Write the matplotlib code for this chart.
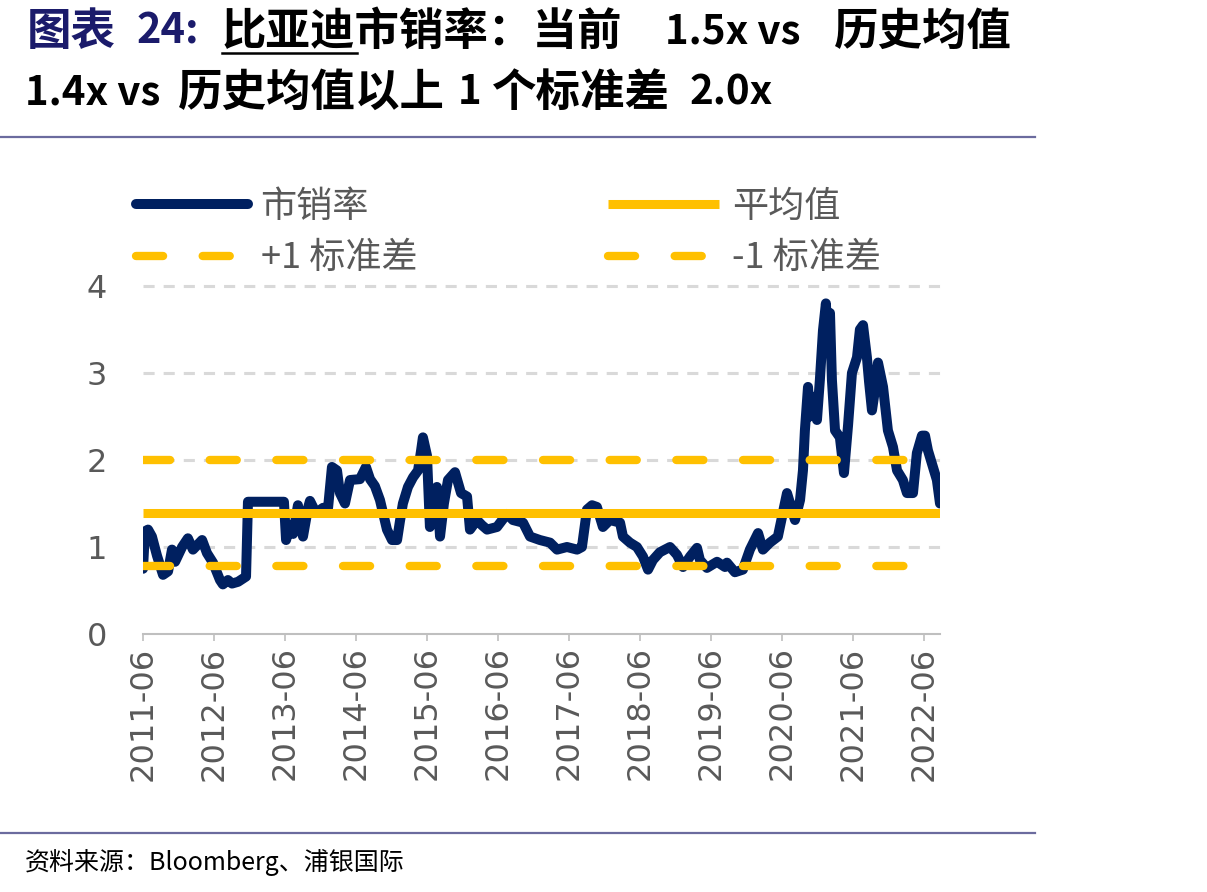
import matplotlib
matplotlib.use('Agg')
import matplotlib.pyplot as plt
import pandas as pd
from matplotlib.lines import Line2D

plt.rcParams['lines.scale_dashes'] = False

# ---------------- data ----------------
dates = [
    '2011-06-01', '2011-06-11', '2011-06-27', '2011-07-17', '2011-08-12', '2011-09-12',
    '2011-10-08', '2011-10-28', '2011-11-13', '2011-12-19', '2012-01-18', '2012-02-13',
    '2012-03-31', '2012-04-25', '2012-05-26', '2012-07-01', '2012-07-16', '2012-08-11',
    '2012-09-01', '2012-10-02', '2012-11-12', '2012-11-22', '2013-05-26', '2013-06-06',
    '2013-06-26', '2013-07-12', '2013-08-06', '2013-09-01', '2013-09-27', '2013-10-07',
    '2013-11-07', '2013-12-13', '2014-01-08', '2014-01-28', '2014-02-23', '2014-03-10',
    '2014-04-05', '2014-05-01', '2014-06-21', '2014-07-22', '2014-08-12', '2014-09-06',
    '2014-10-02', '2014-11-07', '2014-12-03', '2014-12-29', '2015-01-13', '2015-01-28',
    '2015-02-23', '2015-03-21', '2015-04-16', '2015-05-01', '2015-05-11', '2015-06-01',
    '2015-06-16', '2015-07-07', '2015-07-22', '2015-08-07', '2015-08-27', '2015-09-17',
    '2015-10-23', '2015-11-23', '2015-12-24', '2016-01-08', '2016-02-13', '2016-03-10',
    '2016-04-05', '2016-05-26', '2016-07-16', '2016-08-16', '2016-10-07', '2016-11-12',
    '2017-01-02', '2017-02-23', '2017-03-31', '2017-05-21', '2017-07-12', '2017-08-06',
    '2017-09-01', '2017-09-27', '2017-10-22', '2017-11-22', '2017-12-28', '2018-02-18',
    '2018-03-05', '2018-04-10', '2018-05-16', '2018-06-16', '2018-07-12', '2018-08-06',
    '2018-09-11', '2018-11-02', '2018-12-08', '2019-01-08', '2019-02-13', '2019-03-21',
    '2019-04-05', '2019-05-11', '2019-07-02', '2019-08-12', '2019-08-22', '2019-10-02',
    '2019-11-12', '2019-12-18', '2020-01-29', '2020-02-23', '2020-03-30', '2020-05-10',
    '2020-06-26', '2020-07-21', '2020-08-06', '2020-09-01', '2020-09-16', '2020-09-26',
    '2020-10-12', '2020-10-22', '2020-11-01', '2020-11-27', '2020-12-12', '2020-12-28',
    '2021-01-12', '2021-01-23', '2021-02-02', '2021-02-12', '2021-02-28', '2021-03-25',
    '2021-04-15', '2021-05-06', '2021-05-26', '2021-06-21', '2021-07-06', '2021-07-22',
    '2021-08-11', '2021-08-22', '2021-09-06', '2021-09-21', '2021-10-07', '2021-11-02',
    '2021-11-27', '2021-12-23', '2022-01-13', '2022-02-12', '2022-03-05', '2022-04-05',
    '2022-04-25', '2022-05-21', '2022-06-06', '2022-06-21', '2022-07-17', '2022-08-06',
    '2022-08-22',
]
ps_ratio = [
    0.75, 1.18, 1.20, 1.12, 0.90, 0.68,
    0.72, 0.97, 0.83, 1.00, 1.10, 0.97,
    1.08, 0.93, 0.82, 0.62, 0.57, 0.62,
    0.58, 0.60, 0.66, 1.52, 1.52, 1.08,
    1.25, 1.15, 1.48, 1.12, 1.45, 1.53,
    1.39, 1.45, 1.45, 1.92, 1.88, 1.62,
    1.50, 1.77, 1.78, 1.92, 1.78, 1.70,
    1.54, 1.20, 1.08, 1.08, 1.30, 1.50,
    1.69, 1.80, 1.88, 2.10, 2.26, 2.05,
    1.23, 1.50, 1.69, 1.12, 1.50, 1.77,
    1.86, 1.62, 1.58, 1.20, 1.31, 1.25,
    1.20, 1.23, 1.38, 1.31, 1.28, 1.12,
    1.08, 1.05, 0.97, 1.00, 0.97, 1.00,
    1.43, 1.48, 1.46, 1.23, 1.31, 1.28,
    1.12, 1.05, 1.00, 0.89, 0.74, 0.85,
    0.94, 1.00, 0.91, 0.77, 0.89, 0.99,
    0.85, 0.76, 0.83, 0.77, 0.82, 0.71,
    0.74, 0.97, 1.16, 0.97, 1.05, 1.12,
    1.62, 1.43, 1.31, 1.54, 1.88, 2.34,
    2.84, 2.50, 2.73, 2.46, 2.92, 3.49,
    3.80, 3.30, 3.69, 2.92, 2.34, 2.26,
    1.85, 2.40, 3.00, 3.18, 3.50, 3.55,
    3.18, 2.90, 2.57, 2.80, 3.12, 2.84,
    2.34, 2.15, 1.88, 1.77, 1.62, 1.62,
    2.08, 2.28, 2.28, 2.11, 1.92, 1.77,
    1.50,
]
mean_val = 1.39
plus_1sd = 2.00
minus_1sd = 0.78
x_ticks = ['2011-06-01', '2012-06-01', '2013-06-01', '2014-06-01', '2015-06-01', '2016-06-01',
           '2017-06-01', '2018-06-01', '2019-06-01', '2020-06-01', '2021-06-01', '2022-06-01']
x_tick_labels = ['2011-06', '2012-06', '2013-06', '2014-06', '2015-06', '2016-06',
                 '2017-06', '2018-06', '2019-06', '2020-06', '2021-06', '2022-06']
y_ticks = [0, 1, 2, 3, 4]
series_names = ['市销率', '平均值', '+1 标准差', '-1 标准差']

# ---------------- figure ----------------
W, H = 1207, 892
fig = plt.figure(figsize=(W / 100, H / 100), dpi=100)
fig.patch.set_facecolor('white')

NAVY = '#002060'
GOLD = '#FFC000'
GRAY = '#595959'
CJK = ['Noto Sans CJK SC', 'DejaVu Sans']
MIX = ['DejaVu Sans', 'Noto Sans CJK SC']

ax = fig.add_axes([143 / W, 1 - 634 / H, (940 - 143) / W, (634 - 286) / H])
d = pd.to_datetime(dates)
x0, x1 = d[0], d[-1]

h_ps, = ax.plot(d, ps_ratio, color=NAVY, lw=7.2, solid_joinstyle='round',
                solid_capstyle='round', zorder=3, label=series_names[0])
h_mean, = ax.plot([x0, x1], [mean_val, mean_val], color=GOLD, lw=6.5, zorder=4,
                  solid_capstyle='butt', label=series_names[1])
dash = (19.5, 28.5)
h_p1, = ax.plot([x0, x1], [plus_1sd, plus_1sd], color=GOLD, lw=6.0, zorder=4,
                dashes=dash, dash_capstyle='round', label=series_names[2])
h_m1, = ax.plot([x0, x1], [minus_1sd, minus_1sd], color=GOLD, lw=6.0, zorder=4,
                dashes=dash, dash_capstyle='round', label=series_names[3])

ax.set_xlim(x0, x1)
ax.set_ylim(0, 4)
ax.set_yticks(y_ticks)
ax.set_yticklabels([str(v) for v in y_ticks])
ax.set_xticks(pd.to_datetime(x_ticks))
ax.set_xticklabels(x_tick_labels, rotation=90)

for v in y_ticks[1:]:
    ax.axhline(v, color='#D9D9D9', lw=2.2, linestyle=(0, (8, 6.5)), zorder=1, clip_on=False)

for s in ['top', 'right', 'left']:
    ax.spines[s].set_visible(False)
ax.spines['bottom'].set_color('#BFBFBF')
ax.spines['bottom'].set_linewidth(1.5)
ax.tick_params(axis='y', length=0, pad=26, labelsize=23, labelcolor=GRAY)
ax.tick_params(axis='x', length=5, width=1.2, color='#BFBFBF', direction='out',
               pad=4, labelsize=23, labelcolor=GRAY)
for lab in ax.get_xticklabels() + ax.get_yticklabels():
    lab.set_family(MIX)

# column-major fill: row1 = 市销率, 平均值 ; row2 = +1, -1
leg = ax.legend(handles=[h_ps, h_p1, h_mean, h_m1],
                labels=[series_names[0], series_names[2], series_names[1], series_names[3]],
                loc='upper left', bbox_to_anchor=(136 / W, 1 - 189 / H),
                bbox_transform=fig.transFigure, ncol=2, frameon=False,
                prop={'family': CJK, 'size': 26}, labelcolor=GRAY,
                handlelength=3.1, handletextpad=0.35, columnspacing=5.27,
                labelspacing=0.42, borderpad=0, borderaxespad=0)

# ---------------- title, rules, source ----------------
y1 = 1 - 32 / H
y2 = 1 - 93 / H
TNAVY = '#1B1B6B'
TS = 32
LS = 29
def title_piece(x, y, s, c='black', size=TS):
    fig.text(x / W, y, s, color=c, fontsize=size, fontweight='bold', family=CJK, va='center')

title_piece(27, y1, '图表', TNAVY)
title_piece(137, y1, '24:', TNAVY, LS + 1)
title_piece(222, y1, '比亚迪市销率：当前')
title_piece(665, y1, '1.5x vs', size=LS)
title_piece(834, y1, '历史均值')
fig.add_artist(Line2D([222 / W, 357 / W], [1 - 53 / H] * 2, color='black', lw=1.8))

title_piece(25, y2, '1.4x vs', size=LS)
title_piece(178, y2, '历史均值以上')
title_piece(458, y2, '1', size=LS)
title_piece(492, y2, '个标准差')
title_piece(690, y2, '2.0x', size=LS)

RULE = '#6B6B9E'
fig.add_artist(Line2D([0, 1035 / W], [1 - 137 / H] * 2, color=RULE, lw=1.6))
fig.add_artist(Line2D([0, 1035 / W], [1 - 833 / H] * 2, color=RULE, lw=1.6))
fig.text(25 / W, 1 - 862 / H, '资料来源：Bloomberg、浦银国际', color='black', fontsize=18,
         family=CJK, va='center')

fig.savefig('out.png', dpi=100, facecolor='white')
